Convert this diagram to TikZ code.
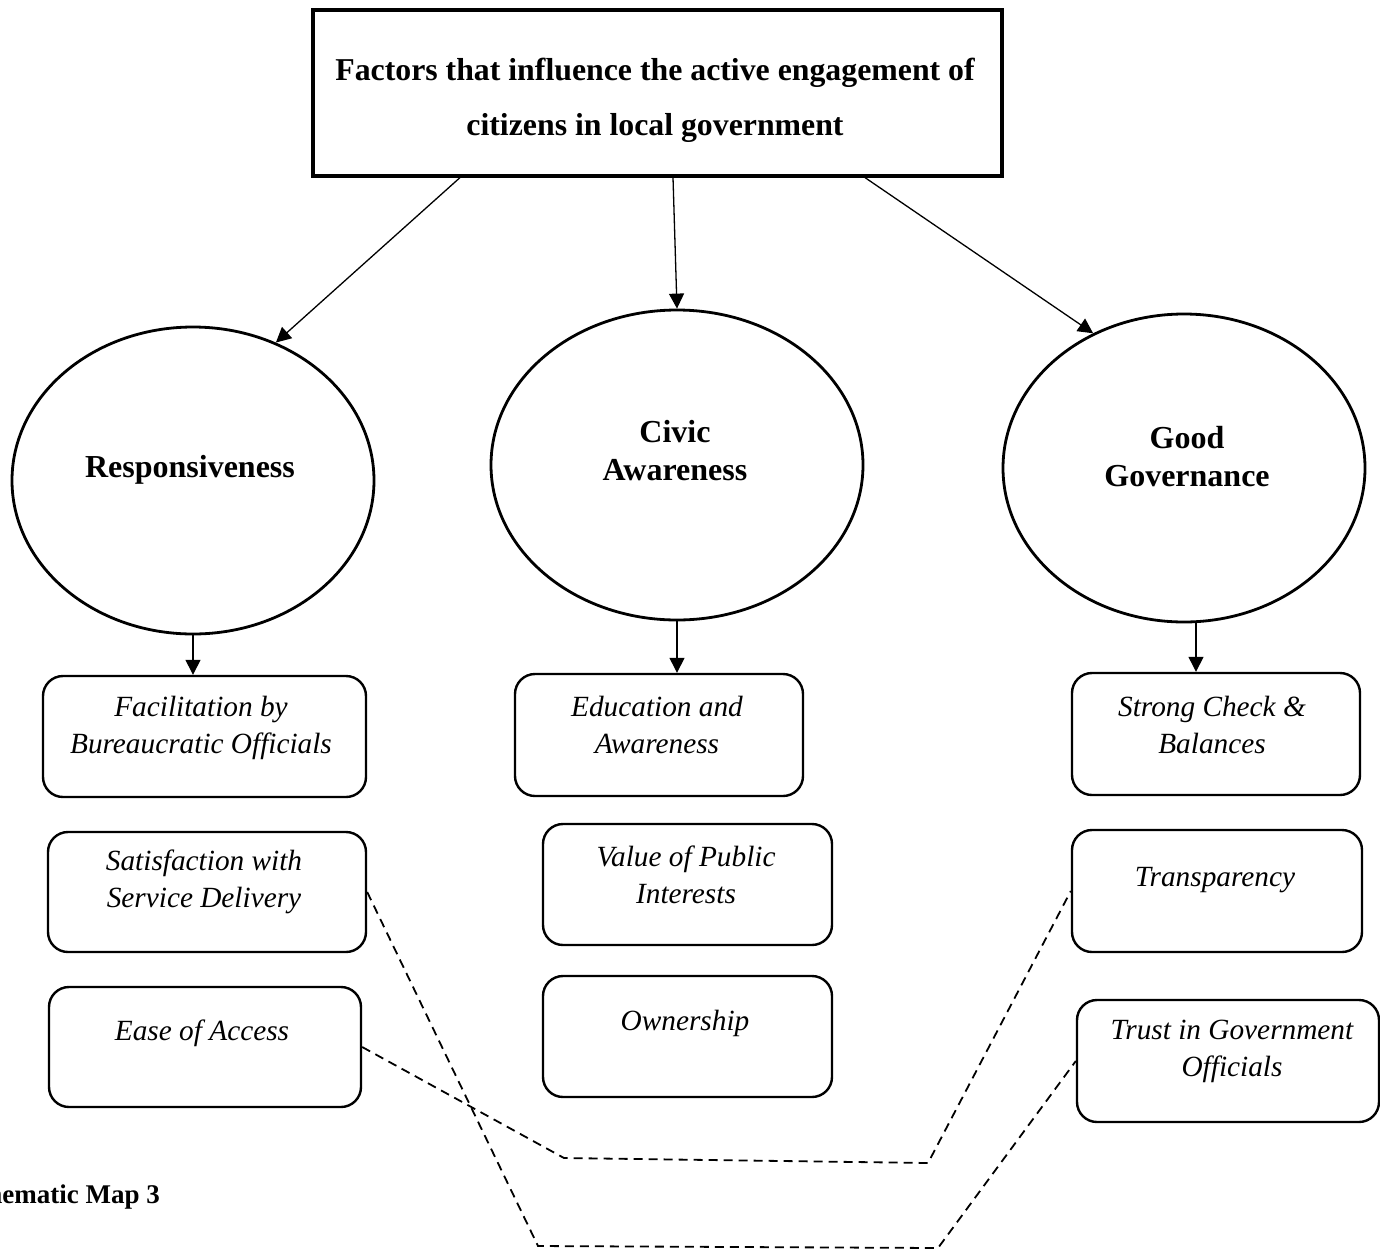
\documentclass[tikz,border=0pt]{standalone}
\usepackage{fontspec}
\setmainfont{Liberation Serif}
\usetikzlibrary{shapes.geometric,arrows.meta}

\begin{document}
\begin{tikzpicture}[x=1pt,y=-1pt,
  heading/.style={draw, line width=3.2pt, inner sep=0pt},
  headtext/.style={font=\bfseries\fontsize{31.8}{55}\selectfont, align=center, inner sep=0pt},
  topic/.style={ellipse, draw, line width=2.8pt, inner sep=0pt},
  topiclabel/.style={font=\bfseries\fontsize{32}{38}\selectfont, align=center, inner sep=0pt},
  itembox/.style={draw, rounded corners=20pt, line width=2.4pt, inner sep=0pt},
  itemlabel/.style={font=\itshape\fontsize{29.3}{37}\selectfont, align=center, inner sep=0pt},
  arr/.style={-{Triangle[length=15pt,width=15pt]}, line width=1.3pt},
  link/.style={line width=1.8pt, dash pattern=on 9pt off 6pt},
]
\useasboundingbox (0,0) rectangle (1380,1250);
\fill[white] (0,0) rectangle (1380,1250);
\clip (0,0) rectangle (1380,1250);

% heading box
\node[heading, minimum width=689pt, minimum height=166pt] (title) at (657.5,93) {};
\node[headtext] (titleT) at (655,100) {Factors that influence the active engagement of\\citizens in local government};

% the three factors
\node[topic, minimum width=362pt, minimum height=307pt] (resp) at (193,480.5) {};
\node[topiclabel] (respT) at (190,470) {Responsiveness};
\node[topic, minimum width=372pt, minimum height=310pt] (civ) at (677,465) {};
\node[topiclabel] (civT) at (675,451) {Civic\\Awareness};
\node[topic, minimum width=362pt, minimum height=308pt] (good) at (1184,468) {};
\node[topiclabel] (goodT) at (1187,457) {Good\\Governance};

% sub-themes: responsiveness
\node[itembox, minimum width=323pt, minimum height=121pt] (fac) at (204.5,736.5) {};
\node[itemlabel] (facT) at (201,728) {Facilitation by\\Bureaucratic Officials};
\node[itembox, minimum width=318pt, minimum height=120pt] (sat) at (207,892) {};
\node[itemlabel] (satT) at (204,882) {Satisfaction with\\Service Delivery};
\node[itembox, minimum width=312pt, minimum height=120pt] (ease) at (205,1047) {};
\node[itemlabel] (easeT) at (202,1033) {Ease of Access};

% sub-themes: civic awareness
\node[itembox, minimum width=288pt, minimum height=122pt] (edu) at (659,735) {};
\node[itemlabel] (eduT) at (657,725) {Education and\\Awareness};
\node[itembox, minimum width=289pt, minimum height=121pt] (val) at (687.5,884.5) {};
\node[itemlabel] (valT) at (686,875) {Value of Public\\Interests};
\node[itembox, minimum width=289pt, minimum height=121pt] (own) at (687.5,1036.5) {};
\node[itemlabel] (ownT) at (685,1023) {Ownership};

% sub-themes: good governance
\node[itembox, minimum width=288pt, minimum height=122pt] (scb) at (1216,734) {};
\node[itemlabel] (scbT) at (1212,725) {Strong Check \&\\Balances};
\node[itembox, minimum width=290pt, minimum height=122pt] (trans) at (1217,891) {};
\node[itemlabel] (transT) at (1215,880) {Transparency};
\node[itembox, minimum width=302pt, minimum height=122pt] (trust) at (1228,1061) {};
\node[itemlabel] (trustT) at (1232,1051) {Trust in Government\\Officials};

% caption
\node[font=\bfseries\fontsize{27}{32}\selectfont, anchor=base east, inner sep=0pt] (cap) at (160,1203) {Thematic Map 3};

% arrows from the heading
\coordinate (t1) at ([xshift=-197.5pt]title.south);
\coordinate (t2) at ([xshift=15.5pt]title.south);
\coordinate (t3) at ([xshift=207.5pt]title.south);
\draw[arr] (t1) -- (resp.59);
\draw[arr] (t2) -- (civ.north);
\draw[arr] (t3) -- (good.124);

% arrows into the first sub-theme
\coordinate (gs) at ([xshift=12pt]good.south);
\draw[arr] (resp.south) -- (resp.south |- fac.north);
\draw[arr] (civ.south) -- (civ.south |- edu.north);
\draw[arr] (gs) -- (gs |- scb.north);

% dashed links across themes
\coordinate (d1a) at (538,1246);
\coordinate (d1b) at (938,1248);
\coordinate (d2a) at (564,1158);
\coordinate (d2b) at (928,1163);
\draw[link] (sat.east) -- (d1a) -- (d1b) -- (trust.west);
\draw[link] (ease.east) -- (d2a) -- (d2b) -- (trans.west);
\end{tikzpicture}
\end{document}
